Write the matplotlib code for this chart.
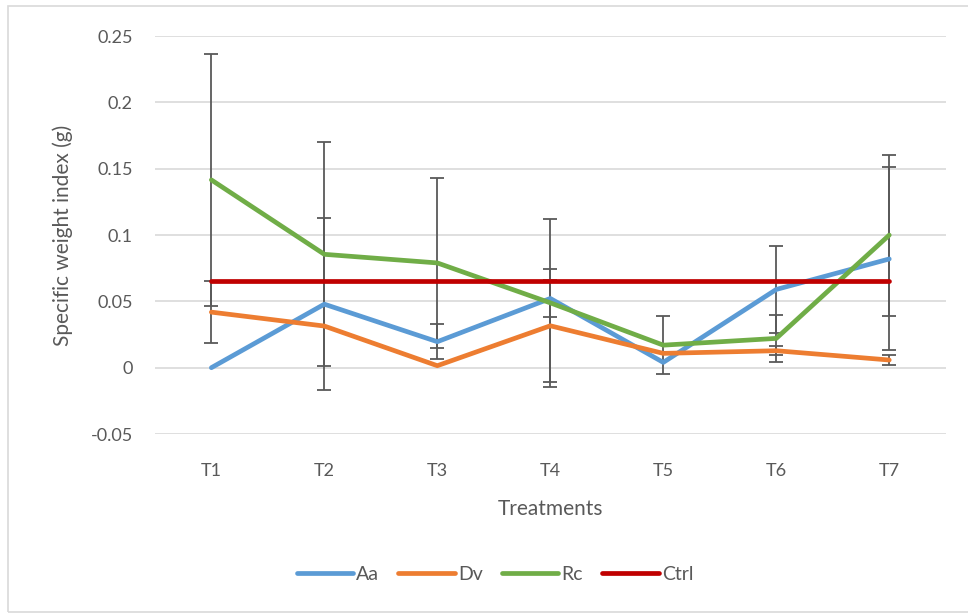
import matplotlib.pyplot as plt
import numpy as np
from matplotlib.patches import Rectangle

treatments = ['T1', 'T2', 'T3', 'T4', 'T5', 'T6', 'T7']

aa = [0.0, 0.0479, 0.0196, 0.0522, 0.004, 0.059, 0.082]
dv = [0.0419, 0.0314, 0.0015, 0.0316, 0.0108, 0.0128, 0.0058]
rc = [0.1416, 0.0855, 0.079, 0.0489, 0.017, 0.0221, 0.100]
ctrl = [0.065, 0.065, 0.065, 0.065, 0.065, 0.065, 0.065]

aa_err = [0.0, 0.0648, 0.013, 0.0143, 0.0, 0.0325, 0.069]
dv_err = [0.0233, 0.0, 0.0, 0.0426, 0.0, 0.0035, 0.0037]
rc_err = [0.095, 0.0845, 0.064, 0.0634, 0.022, 0.018, 0.0607]

plt.rcParams['font.family'] = ['Lato', 'DejaVu Sans']
txt = '#595959'

fig = plt.figure(figsize=(9.68, 6.13), dpi=100)
ax = fig.add_axes([0.160, 0.292, 0.817, 0.649])
# chart area frame (starts a few px in from the top-left, runs off the other sides)
fig.patches.append(Rectangle((0.0083, 0.0016), 1.0, 0.9886, transform=fig.transFigure,
                             fill=False, edgecolor='#d9d9d9', linewidth=1.2))

x = np.arange(len(treatments))
series = [('Aa', aa, aa_err, '#5B9BD5'),
          ('Dv', dv, dv_err, '#ED7D31'),
          ('Rc', rc, rc_err, '#70AD47')]

# error bars first, lines on top
for name, vals, err, col in series:
    v = np.array(vals)
    e = np.array(err)
    m = e > 0
    ax.errorbar(x[m], v[m], yerr=e[m], fmt='none', ecolor='#595959',
                elinewidth=1.3, capsize=5, capthick=1.3, zorder=2)

for name, vals, err, col in series:
    ax.plot(x, vals, color=col, linewidth=3.4, solid_capstyle='round',
            solid_joinstyle='round', label=name, zorder=3)
ax.plot(x, ctrl, color='#C00000', linewidth=3.4, solid_capstyle='round',
        label='Ctrl', zorder=4)

ax.set_xlim(-0.5, 6.5)
ax.set_ylim(-0.05, 0.25)
ax.set_yticks([-0.05, 0, 0.05, 0.1, 0.15, 0.2, 0.25])
ax.set_yticklabels(['-0.05', '0', '0.05', '0.1', '0.15', '0.2', '0.25'])
ax.set_xticks(x)
ax.set_xticklabels(treatments)
ax.grid(axis='y', color='#d9d9d9', linewidth=1.2)
ax.set_axisbelow(True)
for s in ax.spines.values():
    s.set_visible(False)
ax.tick_params(length=0, labelsize=13, colors=txt, pad=21)
ax.tick_params(axis='y', pad=16)

ax.set_xlabel('Treatments', fontsize=15, color=txt, labelpad=14)
ax.set_ylabel('Specific weight index (g)', fontsize=15, color=txt)
ax.yaxis.set_label_coords(-0.104, 0.5)

ax.legend(loc='center', bbox_to_anchor=(0.43, -0.353), ncol=4, frameon=False,
          fontsize=14, labelcolor=txt, handlelength=2.9, handletextpad=0.15,
          columnspacing=1.0)

fig.savefig('out.png', dpi=100)
